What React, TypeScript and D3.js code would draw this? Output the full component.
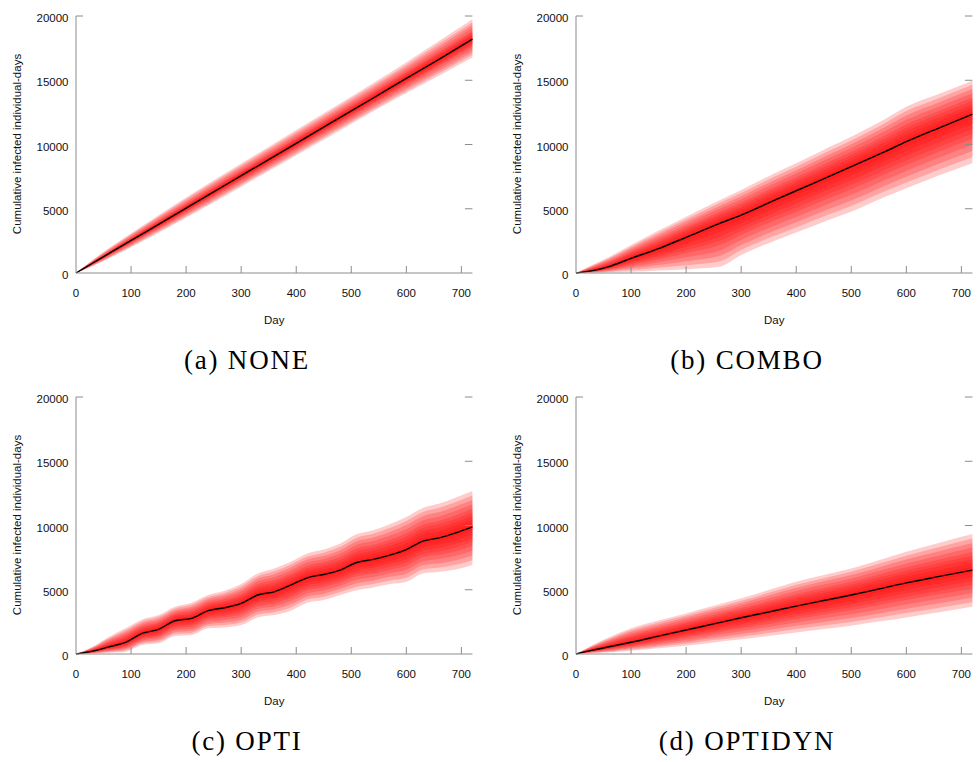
import React from "react";
import * as d3 from "d3";

// ---------- data ----------
const X_TICKS = [0, 100, 200, 300, 400, 500, 600, 700];
const Y_TICKS = [0, 5000, 10000, 15000, 20000];
const X_LABEL = "Day";
const Y_LABEL = "Cumulative infected individual-days";

// (a) NONE
const DAYS_A = [0, 30, 60, 120, 180, 240, 300, 360, 420, 480, 540, 600, 660, 720];
const A_Q05 = [0, 520, 1140, 2460, 3830, 5250, 6720, 8180, 9650, 11110, 12580, 14000, 15370, 16780];
const A_Q25 = [0, 660, 1365, 2800, 4250, 5730, 7220, 8710, 10210, 11700, 13190, 14670, 16120, 17620];
const A_Q50 = [0, 760, 1520, 3030, 4540, 6060, 7570, 9080, 10600, 12110, 13620, 15140, 16650, 18200];
const A_Q75 = [0, 870, 1690, 3290, 4860, 6430, 7960, 9490, 11030, 12560, 14100, 15660, 17230, 18840];
const A_Q95 = [0, 1020, 1940, 3660, 5330, 6950, 8520, 10080, 11650, 13210, 14780, 16400, 18070, 19750];

// (b) COMBO
const DAYS_B = [0, 30, 60, 100, 150, 200, 260, 300, 360, 400, 460, 500, 560, 600, 660, 720];
const B_Q05 = [0, 20, 50, 100, 200, 300, 480, 1400, 2500, 3150, 4150, 4770, 5900, 6590, 7600, 8540];
const B_Q25 = [0, 100, 275, 620, 1050, 1540, 2150, 2960, 4080, 4750, 5840, 6520, 7660, 8400, 9450, 10450];
const B_Q50 = [0, 180, 500, 1140, 1900, 2780, 3850, 4510, 5650, 6400, 7520, 8270, 9420, 10220, 11300, 12350];
const B_Q75 = [0, 415, 875, 1660, 2600, 3580, 4750, 5490, 6700, 7470, 8660, 9440, 10690, 11580, 12630, 13660];
const B_Q95 = [0, 650, 1250, 2180, 3300, 4380, 5650, 6460, 7750, 8540, 9800, 10610, 11950, 12940, 13950, 14970];

// (c) OPTI
const DAYS_C = [0, 30, 60, 90, 120, 150, 180, 210, 240, 270, 300, 330, 360, 390, 420, 450, 480, 510, 540, 570, 600, 630, 660, 690, 720];
const C_Q05 = [0, 30, 100, 180, 700, 830, 1400, 1480, 2000, 2070, 2250, 2850, 3030, 3370, 3990, 4200, 4590, 4970, 5180, 5440, 5620, 6270, 6400, 6580, 6920];
const C_Q25 = [0, 125, 330, 540, 1150, 1375, 1995, 2125, 2685, 2835, 3095, 3720, 3935, 4365, 4960, 5195, 5560, 6045, 6270, 6565, 6875, 7525, 7720, 8005, 8410];
const C_Q50 = [0, 220, 560, 900, 1600, 1920, 2590, 2770, 3370, 3600, 3940, 4590, 4840, 5360, 5930, 6190, 6530, 7120, 7360, 7690, 8130, 8780, 9040, 9430, 9900];
const C_Q75 = [0, 395, 955, 1450, 2145, 2475, 3135, 3380, 3980, 4260, 4690, 5430, 5750, 6270, 6875, 7160, 7565, 8225, 8500, 8895, 9400, 10075, 10375, 10805, 11295];
const C_Q95 = [0, 570, 1350, 2000, 2690, 3030, 3680, 3990, 4590, 4920, 5440, 6270, 6660, 7180, 7820, 8130, 8600, 9330, 9640, 10100, 10670, 11370, 11710, 12180, 12690];

// (d) OPTIDYN
const DAYS_D = [0, 30, 60, 100, 150, 200, 250, 300, 350, 400, 450, 500, 550, 600, 660, 720];
const D_Q05 = [0, 60, 130, 260, 450, 650, 900, 1140, 1400, 1680, 1940, 2200, 2520, 2850, 3250, 3680];
const D_Q25 = [0, 180, 345, 585, 920, 1260, 1620, 1980, 2335, 2705, 3050, 3395, 3790, 4195, 4645, 5105];
const D_Q50 = [0, 300, 560, 910, 1390, 1870, 2340, 2820, 3270, 3730, 4160, 4590, 5060, 5540, 6040, 6530];
const D_Q75 = [0, 500, 930, 1455, 1995, 2515, 3045, 3575, 4125, 4675, 5155, 5625, 6180, 6745, 7345, 7930];
const D_Q95 = [0, 700, 1300, 2000, 2600, 3160, 3750, 4330, 4980, 5620, 6150, 6660, 7300, 7950, 8650, 9330];

const CAPTIONS = ["(a) NONE", "(b) COMBO", "(c) OPTI", "(d) OPTIDYN"];

type Panel = {
  days: number[]; q05: number[]; q25: number[]; q50: number[]; q75: number[]; q95: number[];
  caption: string; ox: number; oy: number;
};

const PANELS: Panel[] = [
  { days: DAYS_A, q05: A_Q05, q25: A_Q25, q50: A_Q50, q75: A_Q75, q95: A_Q95, caption: CAPTIONS[0], ox: 0, oy: 0 },
  { days: DAYS_B, q05: B_Q05, q25: B_Q25, q50: B_Q50, q75: B_Q75, q95: B_Q95, caption: CAPTIONS[1], ox: 500, oy: 0 },
  { days: DAYS_C, q05: C_Q05, q25: C_Q25, q50: C_Q50, q75: C_Q75, q95: C_Q95, caption: CAPTIONS[2], ox: 0, oy: 381 },
  { days: DAYS_D, q05: D_Q05, q25: D_Q25, q50: D_Q50, q75: D_Q75, q95: D_Q95, caption: CAPTIONS[3], ox: 500, oy: 381 },
];

// 9 nested bands, outer (q05/q95) to inner
const N_BANDS = 9;

const AX = "#8c8c8c";
const SANS = "'Liberation Sans', Arial, Helvetica, sans-serif";
const SERIF = "'Liberation Serif', 'Times New Roman', serif";

function bandBound(outer: number, mid: number, med: number, i: number) {
  if (i <= 4) {
    const t = i / 4;
    return outer + (mid - outer) * t;
  }
  const t = (9 - i) / 5;
  return med + (mid - med) * t;
}

function PanelView({ p }: { p: Panel }) {
  const x = d3.scaleLinear().domain([0, 720]).range([76, 472.4]);
  const y = d3.scaleLinear().domain([0, 20000]).range([273, 16]);
  const idx = d3.range(p.days.length);
  const curve = d3.curveMonotoneX;

  const bands = d3.range(N_BANDS).map((i) => {
    const area = d3
      .area<number>()
      .curve(curve)
      .x((k) => x(p.days[k]))
      .y0((k) => y(bandBound(p.q05[k], p.q25[k], p.q50[k], i)))
      .y1((k) => y(bandBound(p.q95[k], p.q75[k], p.q50[k], i)));
    return area(idx) || "";
  });
  const line = d3
    .line<number>()
    .curve(curve)
    .x((k) => x(p.days[k]))
    .y((k) => y(p.q50[k]))(idx) || "";

  const x0 = x(0), x1 = x(720), yb = y(0), yt = y(20000);
  const midX = (x0 + x1) / 2;

  return (
    <g transform={`translate(${p.ox},${p.oy})`}>
      {bands.map((d, i) => (
        <path key={i} d={d} fill="#ff0000" fillOpacity={0.2} stroke="none" />
      ))}
      <path d={line} fill="none" stroke="#000" strokeWidth={1.4} />
      <line x1={x0} x2={x0} y1={yt} y2={yb} stroke={AX} strokeWidth={1} />
      <line x1={x0} x2={x1} y1={yb} y2={yb} stroke={AX} strokeWidth={1} />
      <line x1={x0} x2={x0 + 7} y1={yt} y2={yt} stroke={AX} strokeWidth={1} />
      {X_TICKS.filter((t) => t > 0).map((t) => (
        <line key={t} x1={x(t)} x2={x(t)} y1={yb} y2={yb - 7} stroke={AX} strokeWidth={1} />
      ))}
      {Y_TICKS.filter((t) => t > 0).map((t) => (
        <line key={t} x1={x1 - 7.5} x2={x1} y1={y(t)} y2={y(t)} stroke={AX} strokeWidth={1} />
      ))}
      {X_TICKS.map((t) => (
        <text key={t} x={x(t)} y={yb + 24} textAnchor="middle" fontFamily={SANS} fontSize={11.5} fill="#111">
          {t}
        </text>
      ))}
      {Y_TICKS.map((t) => (
        <text key={t} x={x0 - 7.5} y={y(t) + 6} textAnchor="end" fontFamily={SANS} fontSize={11.5} fill="#111">
          {t}
        </text>
      ))}
      <text x={midX} y={yb + 51} textAnchor="middle" fontFamily={SANS} fontSize={11.5} fill="#111">
        {X_LABEL}
      </text>
      <text
        transform={`translate(21,${(yt + yb) / 2 - 0.5}) rotate(-90)`}
        textAnchor="middle"
        fontFamily={SANS}
        fontSize={11.5}
        fill="#111"
      >
        {Y_LABEL}
      </text>
      <text x={247} y={369} textAnchor="middle" fontFamily={SERIF} fontSize={27} letterSpacing={1.8} fill="#000">
        {p.caption}
      </text>
    </g>
  );
}

export default function App() {
  return (
    <svg
      width={978}
      height={762}
      viewBox="0 0 978 762"
      style={{ position: "absolute", left: 0, top: 0, background: "#fff" }}
    >
      <rect width={978} height={762} fill="#fff" />
      {PANELS.map((p, i) => (
        <PanelView key={i} p={p} />
      ))}
    </svg>
  );
}
